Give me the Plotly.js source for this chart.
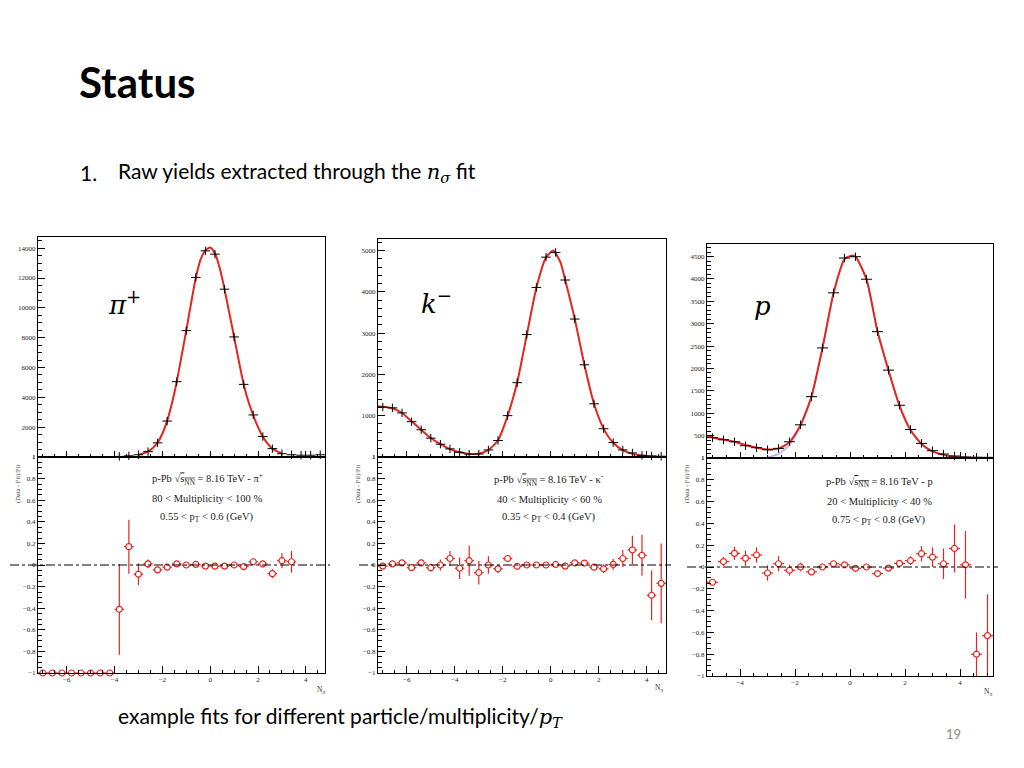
<!DOCTYPE html>
<html>
<head>
<meta charset="utf-8">
<script src="https://cdn.plot.ly/plotly-3.0.1.min.js"></script>
<style>
  html, body { margin: 0; padding: 0; background: #fff; }
  #slide { width: 1024px; height: 768px; }
</style>
</head>
<body>
<div id="slide"></div>
<script>
// --- data (n_sigma bins, width 0.4) ---
const nsigmaPi = [-7.0, -6.6, -6.2, -5.8, -5.4, -5.0, -4.6, -4.2, -3.8, -3.4, -3.0, -2.6, -2.2, -1.8, -1.4,
                  -1.0, -0.6, -0.2, 0.2, 0.6, 1.0, 1.4, 1.8, 2.2, 2.6, 3.0, 3.4, 3.8, 4.2, 4.6];
const countsPi = [null, null, null, null, null, null, null, null, 40, 80, 150, 360, 950, 2410, 5050,
                  8470, 12040, 13820, 13600, 11250, 8050, 4870, 2820, 1370, 560, 220, 150, 120, 120, 150];
const fitPiX = [-3.0, -2.8, -2.6, -2.4, -2.2, -2.0, -1.8, -1.6, -1.4, -1.2, -1.0, -0.8, -0.6, -0.4, -0.2, 0.0,
                0.2, 0.4, 0.6, 0.8, 1.0, 1.2, 1.4, 1.6, 1.8, 2.0, 2.2, 2.4, 2.6, 2.8, 3.0];
const fitPiY = [150, 240, 370, 610, 960, 1560, 2420, 3600, 5050, 6750, 8480, 10300, 12030, 13250, 13850, 14050,
                13650, 12650, 11250, 9650, 8050, 6400, 4880, 3700, 2800, 2000, 1360, 900, 560, 380, 250];
const residPi = [-1, -1, -1, -1, -1, -1, -1, -1, -0.41, 0.17, -0.085, 0.01, -0.045, -0.02, 0.01,
                 0.0, 0.005, -0.01, -0.01, -0.01, 0.0, -0.015, 0.03, 0.01, -0.08, 0.04, 0.03, null, null, null];
const residPiErr = [0, 0, 0, 0, 0, 0, 0, 0, 0.42, 0.25, 0.1, 0.04, 0.03, 0.015, 0.012,
                    0.01, 0.008, 0.008, 0.008, 0.008, 0.01, 0.012, 0.03, 0.03, 0.04, 0.07, 0.1, 0, 0, 0];

const nsigmaK = nsigmaPi;
const countsK = [1210, 1190, 1068, 856, 660, 456, 310, 196, 114, 70, 73, 171, 400, 1002, 1800,
                 2966, 4107, 4841, 4955, 4287, 3341, 2233, 1288, 685, 350, 171, 98, 40, 25, 15];
const fitKX = [-7.2, -7.0, -6.6, -6.2, -5.8, -5.4, -5.0, -4.6, -4.2, -3.8, -3.4, -3.0, -2.6, -2.2, -1.8, -1.4,
               -1.0, -0.6, -0.2, 0.1, 0.4, 0.6, 1.0, 1.4, 1.8, 2.2, 2.6, 3.0, 3.4, 3.8, 4.2, 4.8];
const fitKY = [1230, 1215, 1180, 1065, 865, 660, 460, 310, 192, 115, 75, 78, 170, 405, 995, 1810,
               2960, 4100, 4830, 5000, 4720, 4290, 3340, 2235, 1290, 688, 345, 165, 75, 35, 15, 4];
const residK = [-0.01, 0.01, 0.02, -0.025, 0.02, -0.025, 0.0, 0.06, -0.03, 0.04, -0.07, 0.0, -0.035, 0.06, -0.012,
                0.0, 0.0, 0.0, 0.005, -0.01, 0.02, 0.018, -0.02, -0.035, 0.005, 0.06, 0.14, 0.09, -0.28, -0.17];
const residKErr = [0.025, 0.02, 0.02, 0.025, 0.03, 0.035, 0.05, 0.07, 0.1, 0.14, 0.11, 0.08, 0.04, 0.03, 0.015,
                   0.01, 0.008, 0.008, 0.008, 0.01, 0.012, 0.015, 0.02, 0.04, 0.05, 0.08, 0.13, 0.19, 0.23, 0.37];

const nsigmaP = [-5.0, -4.6, -4.2, -3.8, -3.4, -3.0, -2.6, -2.2, -1.8, -1.4, -1.0, -0.6, -0.2,
                 0.2, 0.6, 1.0, 1.4, 1.8, 2.2, 2.6, 3.0, 3.4, 3.8, 4.2, 4.6, 5.0];
const countsP = [455, 407, 363, 274, 230, 185, 215, 363, 741, 1370, 2459, 3689, 4467,
                 4496, 3993, 2822, 1963, 1178, 637, 326, 163, 89, 44, 22, 15, 15];
const fitPX = [-5.2, -5.0, -4.6, -4.2, -3.8, -3.4, -3.0, -2.6, -2.2, -1.8, -1.4, -1.0, -0.6, -0.2, 0.05,
               0.2, 0.6, 1.0, 1.4, 1.8, 2.2, 2.6, 3.0, 3.4, 3.8, 4.2, 4.8];
const fitPY = [490, 460, 410, 362, 292, 230, 190, 210, 355, 735, 1375, 2460, 3680, 4440, 4520,
               4500, 3990, 2830, 1960, 1170, 625, 315, 150, 70, 30, 12, 3];
const signalPX = [-3.0, -2.6, -2.2, -1.8, -1.4, -1.0, -0.6, -0.2, 0.05, 0.2, 0.6, 1.0, 1.4, 1.8, 2.2, 2.6, 3.0, 3.4, 3.8, 4.2, 4.8];
const signalPY = [15, 90, 290, 700, 1360, 2450, 3670, 4430, 4510, 4490, 3985, 2825, 1955, 1165, 622, 313, 148, 69, 30, 12, 3];
const residP = [-0.14, 0.05, 0.125, 0.08, 0.11, -0.055, 0.03, -0.03, 0.0, -0.045, 0.0, 0.03, 0.02,
                -0.012, 0.0, -0.06, -0.01, 0.033, 0.058, 0.122, 0.09, 0.03, 0.17, 0.02, -0.80, -0.63];
const residPErr = [0.03, 0.04, 0.06, 0.07, 0.07, 0.07, 0.07, 0.05, 0.04, 0.02, 0.01, 0.01, 0.01,
                   0.01, 0.01, 0.015, 0.015, 0.02, 0.04, 0.07, 0.09, 0.14, 0.22, 0.31, 0.2, 0.38];

const ticksPi = [1, 2000, 4000, 6000, 8000, 10000, 12000, 14000];
const ticksK = [1, 1000, 2000, 3000, 4000, 5000];
const ticksP = [1, 500, 1000, 1500, 2000, 2500, 3000, 3500, 4000, 4500];

const SQRTS = 'p-Pb √<span style="text-decoration:overline">s<sub>NN</sub></span> = 8.16 TeV - ';
const infoPi = [SQRTS + 'π<sup>+</sup>', '80 &lt; Multiplicity &lt; 100 %', '0.55 &lt; p<sub>T</sub> &lt; 0.6 (GeV)'];
const infoK = [SQRTS + 'κ<sup>-</sup>', '40 &lt; Multiplicity &lt; 60 %', '0.35 &lt; p<sub>T</sub> &lt; 0.4 (GeV)'];
const infoP = [SQRTS + 'p', '20 &lt; Multiplicity &lt; 40 %', '0.75 &lt; p<sub>T</sub> &lt; 0.8 (GeV)'];

// --- slide geometry (pixels) ---
const W = 1024, H = 768;
const px = v => v / W;
const py = v => 1 - v / H;
const RED = '#e3261f';
const SERIF = 'Liberation Serif, Times New Roman, serif';
const MATH = 'DejaVu Serif, Liberation Serif, serif';
const SANS = 'Lato, Open Sans, sans-serif';

const panels = [
    { name: 'pi', xr: [-7.2, 4.8], x: [38, 325], top: [237, 457], bot: [457, 673], yr: [0, 14750], ticks: ticksPi, minorY: 500,
      nsigma: nsigmaPi, counts: countsPi, fitX: fitPiX, fitY: fitPiY, resid: residPi, err: residPiErr,
      info: infoPi, infoX: 207, infoY: [479, 498, 517], dash: [10, 330], label: '<i>π</i><sup>+</sup>', labelPos: [124, 303], nsLab: [321, 690] },
    { name: 'K', xr: [-7.2, 4.8], x: [378, 666], top: [239, 457], bot: [457, 673], yr: [0, 5280], ticks: ticksK, minorY: 200,
      nsigma: nsigmaK, counts: countsK, fitX: fitKX, fitY: fitKY, resid: residK, err: residKErr,
      info: infoK, infoX: 549, infoY: [480, 499, 517], dash: [359, 671], label: '<i>k</i><sup>−</sup>', labelPos: [436, 302], nsLab: [659, 688] },
    { name: 'p', xr: [-5.2, 5.2], x: [707, 993], top: [244, 458], bot: [458, 676], yr: [0, 4780], ticks: ticksP, minorY: 100,
      nsigma: nsigmaP, counts: countsP, fitX: fitPX, fitY: fitPY, resid: residP, err: residPErr,
      info: infoP, infoX: 879, infoY: [482, 501, 520], dash: [687, 998], label: '<i>p</i>', labelPos: [762, 306], nsLab: [988, 692] }
];

function frameAxis(domain, opts) {
    return Object.assign({
        domain: domain,
        showline: true, linecolor: '#000', linewidth: 1, mirror: true,
        ticks: 'inside', ticklen: 6, tickcolor: '#000', tickwidth: 1,
        showgrid: false, zeroline: false,
        tickfont: { family: SERIF, size: 7, color: '#222' },
        fixedrange: true
    }, opts);
}

const traces = [];
const layout = {
    width: W, height: H,
    margin: { l: 0, r: 0, t: 0, b: 0 },
    paper_bgcolor: '#fff', plot_bgcolor: '#fff',
    showlegend: false,
    annotations: [],
    shapes: []
};

panels.forEach((p, i) => {
    const ti = i + 1, bi = i + 4;
    const tx = 'x' + (ti === 1 ? '' : ti), ty = 'y' + (ti === 1 ? '' : ti);
    const bx = 'x' + bi, by = 'y' + bi;
    const xdom = [px(p.x[0]), px(p.x[1])];

    layout['xaxis' + (ti === 1 ? '' : ti)] = frameAxis(xdom, {
        anchor: ty, range: p.xr, dtick: 2, showticklabels: false,
        minor: { ticks: 'inside', ticklen: 3, tickcolor: '#000', dtick: 0.5 }
    });
    layout['yaxis' + (ti === 1 ? '' : ti)] = frameAxis([py(p.top[1]), py(p.top[0])], {
        anchor: tx, range: p.yr, tickvals: p.ticks, tickformat: 'd', ticklen: 7,
        minor: { ticks: 'inside', ticklen: 3.5, tickcolor: '#000', dtick: p.minorY }
    });
    layout['xaxis' + bi] = frameAxis(xdom, {
        anchor: by, range: p.xr, dtick: 2, ticklen: 7,
        minor: { ticks: 'inside', ticklen: 3.5, tickcolor: '#000', dtick: 0.5 }
    });
    layout['yaxis' + bi] = frameAxis([py(p.bot[1]), py(p.bot[0])], {
        anchor: bx, range: [-1, 1], dtick: 0.2, ticklen: 7,
        minor: { ticks: 'inside', ticklen: 3.5, tickcolor: '#000', dtick: 0.05 }
    });

    if (p.name === 'p') {
        traces.push({
            x: signalPX, y: signalPY, xaxis: tx, yaxis: ty, type: 'scatter', mode: 'lines',
            line: { color: 'rgba(120,110,210,0.55)', width: 1.5, shape: 'spline', smoothing: 0.6 },
            hoverinfo: 'skip'
        });
    }
    traces.push({
        x: p.fitX, y: p.fitY, xaxis: tx, yaxis: ty, type: 'scatter', mode: 'lines',
        line: { color: RED, width: 2, shape: 'spline', smoothing: 0.6 },
        hoverinfo: 'skip'
    });
    traces.push({
        x: p.nsigma, y: p.counts, xaxis: tx, yaxis: ty, type: 'scatter', mode: 'markers',
        marker: { symbol: 'line-ns-open', size: 6, color: '#000', line: { color: '#000', width: 1 } },
        error_x: { type: 'constant', value: 0.2, width: 0, color: '#000', thickness: 1 },
        cliponaxis: false
    });
    traces.push({
        x: p.nsigma, y: p.resid, xaxis: bx, yaxis: by, type: 'scatter', mode: 'markers',
        marker: { symbol: 'circle', size: 6, color: '#fff', line: { color: RED, width: 1.2 } },
        error_x: { type: 'constant', value: 0.2, width: 0, color: RED, thickness: 1.2 },
        error_y: { type: 'data', array: p.err, width: 0, color: RED, thickness: 1.2 },
        cliponaxis: false
    });

    layout.shapes.push({
        type: 'line', xref: 'paper', yref: by,
        x0: px(p.dash[0]), x1: px(p.dash[1]), y0: 0, y1: 0,
        line: { color: '#000', width: 1, dash: 'dashdot' }
    });

    p.info.forEach((t, k) => {
        layout.annotations.push({
            text: t, xref: 'paper', yref: 'paper', x: px(p.infoX), y: py(p.infoY[k]),
            xanchor: 'center', yanchor: 'middle', showarrow: false,
            font: { family: SERIF, size: 10.5, color: '#222' }
        });
    });
    layout.annotations.push({
        text: p.label, xref: 'paper', yref: 'paper', x: px(p.labelPos[0]), y: py(p.labelPos[1]),
        xanchor: 'center', yanchor: 'middle', showarrow: false,
        font: { family: MATH, size: 26, color: '#000' }
    });
    layout.annotations.push({
        text: 'N<sub>σ</sub>', xref: 'paper', yref: 'paper', x: px(p.nsLab[0]), y: py(p.nsLab[1]),
        xanchor: 'center', yanchor: 'middle', showarrow: false,
        font: { family: SERIF, size: 7.5, color: '#333' }
    });
    layout.annotations.push({
        text: '(Data - Fit)/Fit', xref: 'paper', yref: 'paper', x: px(p.x[0] - 20), y: py(484),
        xanchor: 'center', yanchor: 'middle', textangle: -90, showarrow: false,
        font: { family: SERIF, size: 6.5, color: '#444' }
    });
});

// slide text
layout.annotations.push(
    { text: '<b>Status</b>', xref: 'paper', yref: 'paper', x: px(77), y: py(82), xanchor: 'left', yanchor: 'middle',
      showarrow: false, font: { family: SANS, size: 42, color: '#000' } },
    { text: '1.', xref: 'paper', yref: 'paper', x: px(78), y: py(172), xanchor: 'left', yanchor: 'middle',
      showarrow: false, font: { family: SANS, size: 21, color: '#000' } },
    { text: 'Raw yields extracted through the <span style="font-family:DejaVu Serif"><i>n</i><sub><i>σ</i></sub></span> fit',
      xref: 'paper', yref: 'paper', x: px(116), y: py(172), xanchor: 'left', yanchor: 'middle',
      showarrow: false, font: { family: SANS, size: 21, color: '#000' } },
    { text: 'example fits for different particle/multiplicity/<span style="font-family:DejaVu Serif"><i>p</i><sub><i>T</i></sub></span>',
      xref: 'paper', yref: 'paper', x: px(116), y: py(717), xanchor: 'left', yanchor: 'middle',
      showarrow: false, font: { family: SANS, size: 21, color: '#000' } },
    { text: '19', xref: 'paper', yref: 'paper', x: px(953), y: py(734), xanchor: 'center', yanchor: 'middle',
      showarrow: false, font: { family: SANS, size: 13, color: '#8c8c8c' } }
);

Plotly.newPlot('slide', traces, layout, { staticPlot: true, displayModeBar: false });
</script>
</body>
</html>
